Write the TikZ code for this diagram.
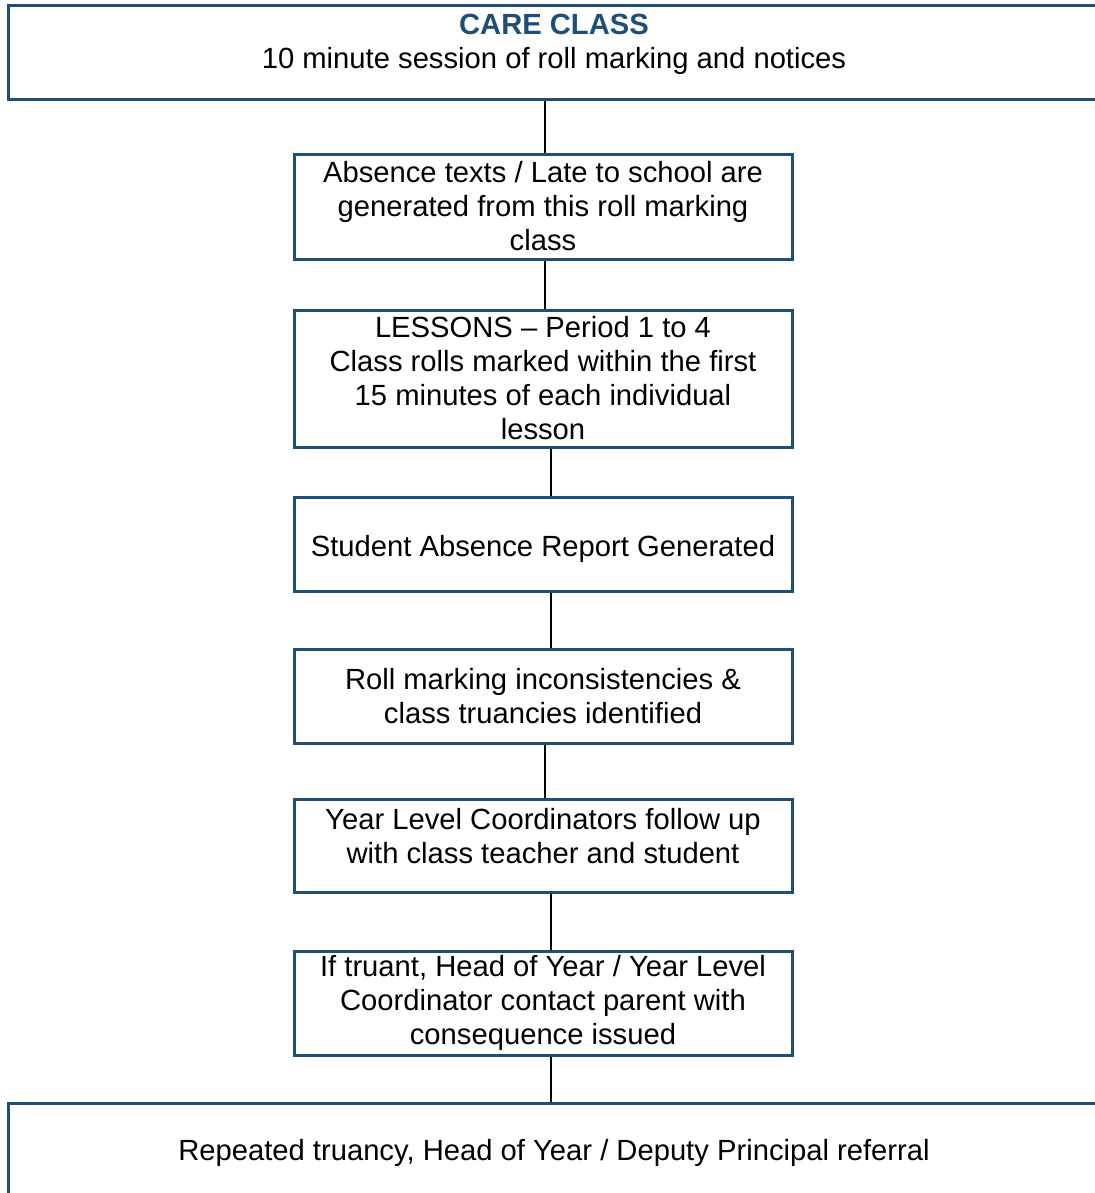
\documentclass[tikz,border=0pt]{standalone}
\usepackage{fontspec}
\setmainfont{Liberation Sans}
\usetikzlibrary{positioning}
\definecolor{boxblue}{RGB}{31,78,121}
\tikzstyle{step box}=[draw=boxblue,line width=1.5pt,rectangle,align=center,inner sep=0pt,minimum width=249pt]
\tikzstyle{wide box}=[step box,minimum width=546pt,minimum height=47pt]
\tikzstyle{link}=[line width=1pt,black]

\begin{document}
\begin{tikzpicture}[x=0.5pt,y=-0.5pt,every node/.style={font=\fontsize{14.6}{17}\selectfont}]
\useasboundingbox (0,0) rectangle (1094,1193);
%
\node[wide box,text depth=12pt] (care) at (554,53) {{\bfseries\color{boxblue}CARE CLASS}\\10 minute session of roll marking and notices};
\node[step box,minimum height=52.5pt] (texts) at (543,206.5) {Absence texts / Late to school are\\generated from this roll marking\\class};
\node[step box,minimum height=68.5pt] (lessons) at (543,378.5) {LESSONS -- Period 1 to 4\\Class rolls marked within the first\\15 minutes of each individual\\lesson};
\node[step box,minimum height=47pt,text height=15.5pt,text depth=3pt] (report) at (543,544) {Student Absence Report Generated};
\node[step box,minimum height=47pt] (incons) at (543,696) {Roll marking inconsistencies \&\\class truancies identified};
\node[step box,minimum height=46.5pt,text depth=10pt] (follow) at (543,845.5) {Year Level Coordinators follow up\\with class teacher and student};
\node[step box,minimum height=52pt] (truant) at (543,1003) {If truant, Head of Year / Year Level\\Coordinator contact parent with\\consequence issued};
\node[wide box,text height=13pt,text depth=3pt] (referral) at (554,1150) {Repeated truancy, Head of Year / Deputy Principal referral};
%
\draw[link] ([xshift=1pt]texts.north |- care.south) -- ([xshift=1pt]texts.north);
\draw[link] ([xshift=1pt]texts.south) -- ([xshift=1pt]lessons.north);
\draw[link] ([xshift=4pt]lessons.south) -- ([xshift=4pt]report.north);
\draw[link] ([xshift=4pt]report.south) -- ([xshift=4pt]incons.north);
\draw[link] ([xshift=1pt]incons.south) -- ([xshift=1pt]follow.north);
\draw[link] ([xshift=4pt]follow.south) -- ([xshift=4pt]truant.north);
\draw[link] ([xshift=4pt]truant.south) -- ([xshift=4pt]truant.south |- referral.north);
%
\end{tikzpicture}
\end{document}
